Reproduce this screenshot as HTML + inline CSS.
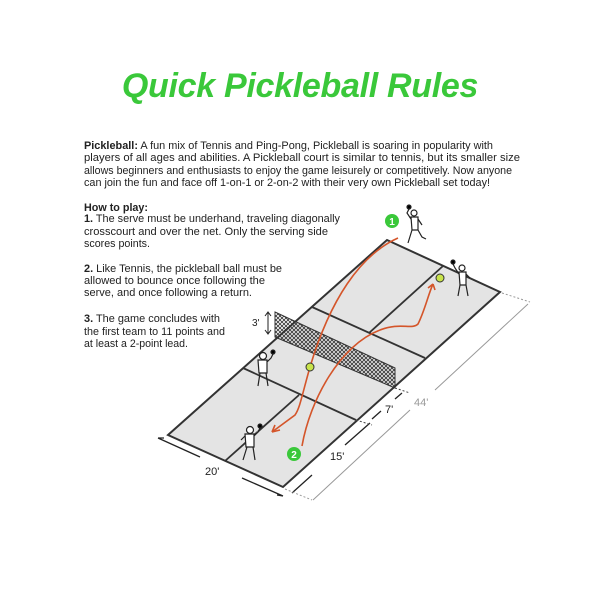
<!DOCTYPE html>
<html><head><meta charset="utf-8">
<style>
html,body{margin:0;padding:0;background:#fff;}
body{width:600px;height:600px;position:relative;overflow:hidden;font-family:"Liberation Sans",sans-serif;color:#222;}
.title{position:absolute;left:0;width:600px;top:67px;text-align:center;font-size:34px;font-weight:bold;font-style:italic;color:#3ac83a;letter-spacing:-0.3px;}
</style></head><body>
<div class="title">Quick Pickleball Rules</div>
<svg width="600" height="600" style="position:absolute;left:0;top:0" viewBox="0 0 600 600">
<defs>
<pattern id="net" width="4" height="4" patternUnits="userSpaceOnUse">
<path d="M0 0L4 4M4 0L0 4" stroke="#333" stroke-width="0.8"/>
</pattern>
</defs>
<g font-family="Liberation Sans, sans-serif" font-size="10.8" fill="#222" lengthAdjust="spacingAndGlyphs">
<text x="84" y="149" textLength="409" lengthAdjust="spacingAndGlyphs"><tspan font-weight="bold">Pickleball:</tspan> A fun mix of Tennis and Ping-Pong, Pickleball is soaring in popularity with</text>
<text x="84" y="161" textLength="436" lengthAdjust="spacingAndGlyphs">players of all ages and abilities. A Pickleball court is similar to tennis, but its smaller size</text>
<text x="84" y="174" textLength="428" lengthAdjust="spacingAndGlyphs">allows beginners and enthusiasts to enjoy the game leisurely or competitively. Now anyone</text>
<text x="84" y="186" textLength="406" lengthAdjust="spacingAndGlyphs">can join the fun and face off 1-on-1 or 2-on-2 with their very own Pickleball set today!</text>
<text x="84" y="211" textLength="64" lengthAdjust="spacingAndGlyphs" font-weight="bold">How to play:</text>
<text x="84" y="222" textLength="256" lengthAdjust="spacingAndGlyphs"><tspan font-weight="bold">1.</tspan> The serve must be underhand, traveling diagonally</text>
<text x="84" y="235" textLength="244" lengthAdjust="spacingAndGlyphs">crosscourt and over the net. Only the serving side</text>
<text x="84" y="247" textLength="66" lengthAdjust="spacingAndGlyphs">scores points.</text>
<text x="84" y="272" textLength="198" lengthAdjust="spacingAndGlyphs"><tspan font-weight="bold">2.</tspan> Like Tennis, the pickleball ball must be</text>
<text x="84" y="284" textLength="181" lengthAdjust="spacingAndGlyphs">allowed to bounce once following the</text>
<text x="84" y="296" textLength="168" lengthAdjust="spacingAndGlyphs">serve, and once following a return.</text>
<text x="84" y="322" textLength="136" lengthAdjust="spacingAndGlyphs"><tspan font-weight="bold">3.</tspan> The game concludes with</text>
<text x="84" y="335" textLength="141" lengthAdjust="spacingAndGlyphs">the first team to 11 points and</text>
<text x="84" y="347" textLength="104" lengthAdjust="spacingAndGlyphs">at least a 2-point lead.</text>
</g>
<polygon points="387,240 500,292 283,487 168,435" fill="#e4e4e4" stroke="#333" stroke-width="2"/>
<g stroke="#333" stroke-width="1.8" fill="none">
<line x1="312" y1="307" x2="425" y2="358"/>
<line x1="243" y1="368" x2="356" y2="420"/>
<line x1="443" y1="266" x2="369" y2="333"/>
<line x1="299" y1="395" x2="225" y2="461"/>
</g>
<polygon points="275,312 395,368 395,388 275,337" fill="url(#net)" stroke="#333" stroke-width="1"/>
<text x="252" y="326" font-size="10" fill="#222">3'</text>
<path d="M268 313 L268 333 M265 316 L268 312 L271 316 M265 330 L268 334 L271 330" stroke="#222" fill="none"/>
<g stroke="#222" stroke-width="1.3" fill="none">
<path d="M158 438 L200 457 M242 478 L283 496 M158 438 l6 0 M283 496 l-6 -1"/>
<path d="M292 493 L312 475 M345 445 L370 423" />
<path d="M372 419 L381 411 M395 399 L402 393"/>
</g>
<g stroke="#999" stroke-width="1" fill="none">
<path d="M313 500 L410 410 M435 390 L528 304"/>
<path d="M502 293 L530 302 M285 489 L312 500" stroke-dasharray="2,2"/>
<path d="M395 388 L410 393 M356 420 L372 425" stroke="#444" stroke-dasharray="2,2"/>
</g>
<text x="205" y="475" font-size="11" fill="#222">20'</text>
<text x="330" y="460" font-size="11" fill="#222">15'</text>
<text x="385" y="413" font-size="11" fill="#222">7'</text>
<text x="414" y="406" font-size="11" fill="#999">44'</text>
<g stroke="#d4552a" stroke-width="1.6" fill="none">
<path d="M398 238 C 360 255, 330 300, 310 367 C 302 395, 300 408, 295 415 L272 432"/>
<path d="M272 432 l8 -2 M272 432 l3 -7"/>
<path d="M302 446 C 310 400, 340 345, 380 330 C 400 322, 412 330, 418 324 C 425 310, 428 295, 433 284"/>
<path d="M433 284 l-5 4 M433 284 l2 6"/>
</g>
<circle cx="310" cy="367" r="4" fill="#c8e34a" stroke="#333"/>
<circle cx="440" cy="278" r="4" fill="#c8e34a" stroke="#333"/>
<circle cx="392" cy="221" r="7" fill="#3ac83a"/><text x="392" y="225" font-size="10" font-weight="bold" fill="#fff" text-anchor="middle">1</text>
<circle cx="294" cy="454" r="7" fill="#3ac83a"/><text x="294" y="458" font-size="10" font-weight="bold" fill="#fff" text-anchor="middle">2</text>
<g stroke="#222" stroke-width="1.2" fill="#fff">
<g transform="translate(414,225)"><circle cx="0" cy="-12" r="3"/><path d="M-3 -8 L-2 5 L4 5 L4 -8 Z M-2 5 L-6 18 M4 5 L8 12 L12 14 M4 -6 L8 0 M-3 -6 L-7 -12 L-5 -16"/><circle cx="-5" cy="-18" r="2" fill="#000"/></g>
<g transform="translate(462,280)"><circle cx="0" cy="-12" r="3"/><path d="M-3 -8 L-2 5 L4 5 L4 -8 Z M-2 5 L-4 16 M4 5 L6 16 M4 -6 L8 -2 M-3 -6 L-7 -12 L-9 -16"/><circle cx="-9" cy="-18" r="2" fill="#000"/></g>
<g transform="translate(263,368)"><circle cx="0" cy="-12" r="3.5"/><path d="M-5 -8 L-4 5 L4 5 L4 -8 Z M-3 5 L-5 18 M3 5 L5 18 M4 -6 L8 -10 L10 -14"/><circle cx="10" cy="-16" r="2" fill="#000"/></g>
<g transform="translate(250,442)"><circle cx="0" cy="-12" r="3.5"/><path d="M-5 -8 L-4 5 L4 5 L4 -8 Z M-3 5 L-7 18 M3 5 L5 18 M4 -6 L8 -10 L10 -14 M-5 -6 L-9 -2"/><circle cx="10" cy="-16" r="2" fill="#000"/></g>
</g>
</svg>
</body></html>
